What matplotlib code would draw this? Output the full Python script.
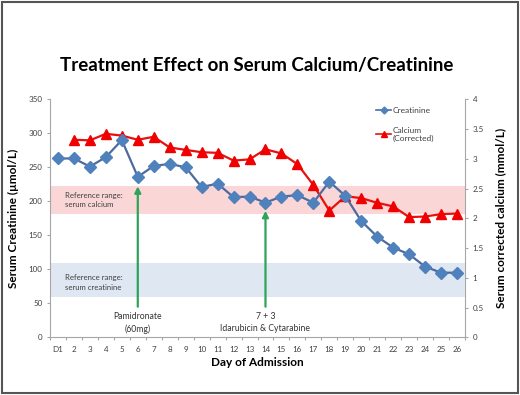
import matplotlib
matplotlib.use("Agg")
import matplotlib.pyplot as plt
from matplotlib.lines import Line2D
from matplotlib.patches import Rectangle

days = list(range(1, 27))
day_labels = ["D1"] + [str(d) for d in range(2, 27)]
creatinine = [263, 263, 251, 265, 290, 236, 252, 255, 250, 221, 226, 206, 207,
              198, 207, 209, 198, 229, 208, 171, 148, 132, 122, 104, 95, 95]
calcium_days = list(range(2, 27))
calcium = [3.32, 3.31, 3.42, 3.39, 3.32, 3.37, 3.19, 3.15, 3.11, 3.10, 2.97, 2.99,
           3.16, 3.09, 2.91, 2.56, 2.13, 2.37, 2.34, 2.26, 2.20, 2.02, 2.03, 2.07, 2.08]
calcium_ref = (2.08, 2.54)
creatinine_ref = (59, 110)
events = [(6, "Pamidronate\n(60mg)", 222), (14, "7 + 3\nIdarubicin & Cytarabine", 186)]

plt.rcParams['font.family'] = ['Lato', 'DejaVu Sans']

fig = plt.figure(figsize=(5.2, 3.95), dpi=100)
ax = fig.add_axes([50/520, 1-337.3/395, (465-50)/520, (337.3-99.3)/395])
ax2 = ax.twinx()

ax.set_xlim(0.5, 26.5)
ax.set_ylim(0, 350)
ax2.set_ylim(0, 4)

# reference bands on calcium axis / creatinine axis
ax2.axhspan(calcium_ref[0], calcium_ref[1], color='#FAD6D6', zorder=0, lw=0)
ax.axhspan(creatinine_ref[0], creatinine_ref[1], color='#DFE7F3', zorder=0, lw=0)
ax.set_zorder(ax2.get_zorder() + 1)
ax.patch.set_visible(False)

ax.text(1.45, 202, "Reference range:\nserum calcium", fontsize=5.6, color='#404040',
        va='center', ha='left', linespacing=1.45)
ax.text(1.45, 81, "Reference range:\nserum creatinine", fontsize=5.6, color='#404040',
        va='center', ha='left', linespacing=1.45)

# creatinine
ax.plot(days, creatinine, color='#4E6B9E', lw=1.6, marker='D', markersize=6,
        markerfacecolor='#4F81BD', markeredgecolor='#4F81BD', zorder=4)
# calcium
ax2.plot(calcium_days, calcium, color='#E8100E', lw=1.6, marker='^', markersize=7.5,
         markerfacecolor='#F00000', markeredgecolor='#F00000', zorder=3)

# event arrows
for d, label, tip in events:
    ax.annotate("", xy=(d, tip), xytext=(d, 45),
                arrowprops=dict(arrowstyle='-|>', color='#2EA35A', lw=1.6,
                                mutation_scale=9, shrinkA=0, shrinkB=0), zorder=5)
    ax.text(d, 37, label, fontsize=6.2, ha='center', va='top', color='#333333',
            linespacing=1.45)

# axes styling
for a in (ax, ax2):
    a.spines['top'].set_visible(False)
    for s in ('left', 'right', 'bottom'):
        a.spines[s].set_color('#A6A6A6')
        a.spines[s].set_linewidth(0.8)
ax.spines['right'].set_visible(False)
ax2.spines['left'].set_visible(False)
ax2.spines['bottom'].set_visible(False)

ax.set_yticks(range(0, 351, 50))
ax.tick_params(axis='y', labelsize=5.8, colors='#A6A6A6', labelcolor='#404040',
               length=2.5, width=0.8, pad=3)
ax2.set_yticks([0, 0.5, 1, 1.5, 2, 2.5, 3, 3.5, 4])
ax2.set_yticklabels(["0", "0.5", "1", "1.5", "2", "2.5", "3", "3.5", "4"])
ax2.tick_params(axis='y', labelsize=5.8, colors='#A6A6A6', labelcolor='#404040',
                length=2.5, width=0.8, pad=3)

ax.set_xticks(days)
ax.set_xticklabels(day_labels)
ax.tick_params(axis='x', which='major', length=0, labelsize=5.8,
               labelcolor='#404040', pad=6)
ax.set_xticks([d + 0.5 for d in range(0, 27)], minor=True)
ax.tick_params(axis='x', which='minor', length=2.5, width=0.8, colors='#A6A6A6')

ax.set_xlabel("Day of Admission", fontsize=8.5, fontweight='bold', labelpad=3)
ax.set_ylabel("Serum Creatinine (\u00b5mol/L)", fontsize=8.5, fontweight='bold', labelpad=7)
ax2.set_ylabel("Serum corrected calcium (mmol/L)", fontsize=8.5, fontweight='bold', labelpad=8)

fig.text(257/520, 1-65/395, "Treatment Effect on Serum Calcium/Creatinine",
         fontsize=13.5, fontweight='bold', ha='center', va='center')

handles = [Line2D([], [], color='#4E6B9E', marker='D', markersize=3.5, lw=1.2,
                  markerfacecolor='#4F81BD', markeredgecolor='#4F81BD'),
           Line2D([], [], color='#E8100E', marker='^', markersize=5, lw=1.2,
                  markerfacecolor='#F00000', markeredgecolor='#F00000')]
leg = fig.legend(handles, ["Creatinine", "Calcium\n(Corrected)"],
                 loc='upper left', bbox_to_anchor=(372/520, 1-103/395),
                 frameon=False, fontsize=6, handlelength=1.8, handletextpad=0.2,
                 labelspacing=1.5, borderpad=0)
for t in leg.get_texts():
    t.set_color('#404040')

fig.patches.append(Rectangle((0.004, 0.005), 0.992, 0.99, transform=fig.transFigure,
                             fill=False, edgecolor='#555555', lw=1.5))

fig.savefig("out.png", dpi=100)
